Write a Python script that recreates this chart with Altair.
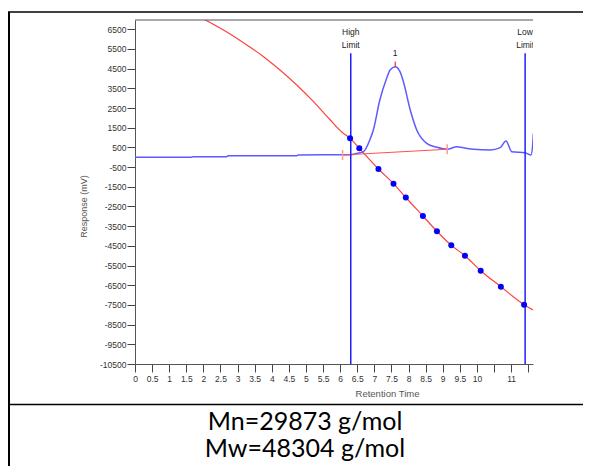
import altair as alt
import pandas as pd

# ---- data ----
# chromatogram (blue trace): retention time, response (mV)
blue_t = [0.0, 1.66, 1.70, 2.68, 2.72, 4.73, 4.77, 6.30, 6.50, 6.68, 6.87, 6.97, 7.16, 7.36,
          7.46, 7.61, 7.75, 7.85, 8.05, 8.24, 8.53, 8.83, 9.13, 9.41, 9.65, 9.90, 10.39,
          10.68, 10.85, 11.02, 11.41, 11.58, 11.63, 11.65]
blue_v = [0, 0, 30, 30, 80, 80, 116, 130, 200, 284, 890, 1386, 2909, 4011,
          4433, 4601, 4347, 3839, 2401, 1386, 710, 507, 406, 540, 470, 406, 370,
          490, 830, 284, 233, 117, 620, 1210]

# calibration curve (red)
red_t = [2.00, 2.78, 3.27, 3.76, 4.24, 4.73, 5.22, 5.71, 6.09, 6.29, 6.56, 7.12, 7.56, 7.92,
         8.42, 8.83, 9.25, 9.65, 10.11, 10.70, 11.38, 11.64]
red_v = [7030, 6261, 5703, 5109, 4433, 3671, 2823, 1894, 1218, 964, 456, -595, -1342, -2043,
         -2982, -3759, -4470, -4998, -5760, -6573, -7487, -7756]

# calibration standards (blue dots)
cal_t = [6.29, 6.56, 7.12, 7.56, 7.92, 8.42, 8.83, 9.25, 9.65, 10.11, 10.70, 11.38]
cal_v = [964, 456, -595, -1342, -2043, -2982, -3759, -4470, -4998, -5760, -6573, -7487]

# integration baseline (red) and its end markers
base_t = [6.07, 9.13]
base_v = [116, 406]
base_lo = [-140, 150]
base_hi = [370, 660]

# peak marker
peak_t = [7.61]
peak_lo = [4601]
peak_hi = [4860]
peak_lab_v = [5281]
peak_label = ["1"]

# limits
lim_t = [6.31, 11.41]
lim_top = [5281, 5281]
lim_bottom = [-10500, -10500]
lim_lab_t = [6.31, 6.31, 11.41, 11.41]
lim_lab_v = [6348, 5703, 6348, 5703]
lim_labels = ["High", "Limit", "Low", "Limit"]

# axes
y_ticks = [6500 - 1000 * i for i in range(18)]
x_ticks = [i * 0.5 for i in range(24)]
x_domain = [0, 11.64]
y_domain = [-10500, 6972]

result_lines = ["Mn=29873 g/mol", "Mw=48304 g/mol"]

W, H = 398, 344

xs = alt.Scale(domain=x_domain, nice=False, zero=False)
ys = alt.Scale(domain=y_domain, nice=False, zero=False)

xaxis = alt.Axis(
    values=x_ticks, grid=False, tickSize=8, labelPadding=2,
    labelExpr="(datum.value == 10.5 || datum.value == 11.5) ? '' : '' + datum.value",
    labelFont="Liberation Sans", labelFontSize=8.5, labelColor="#333",
    domainColor="#555", tickColor="#444", labelFlush=False, labelOverlap=False,
    titleFont="Liberation Sans", titleFontSize=9.5, titleFontWeight="normal", titleColor="#555",
    titleX=252, titleY=29, titleAlign="center", titleBaseline="middle",
)
yaxis = alt.Axis(
    values=y_ticks, grid=False, tickSize=8, labelPadding=1,
    labelExpr="'' + datum.value",
    labelFont="Liberation Sans", labelFontSize=8.5, labelColor="#333",
    domainColor="#555", tickColor="#444", labelFlush=False, labelOverlap=False,
    titleFont="Liberation Sans", titleFontSize=9, titleFontWeight="normal", titleColor="#555",
    titleX=-52, titleY=186, titleAlign="center", titleBaseline="middle", titleAngle=270,
)

X = alt.X("t:Q", scale=xs, axis=xaxis, title="Retention Time")
Y = alt.Y("v:Q", scale=ys, axis=yaxis, title="Response (mV)")

blue_df = pd.DataFrame({"t": blue_t, "v": blue_v})
red_df = pd.DataFrame({"t": red_t, "v": red_v})
cal_df = pd.DataFrame({"t": cal_t, "v": cal_v})
base_df = pd.DataFrame({"t": base_t, "v": base_v})
base_tick_df = pd.DataFrame({"t": base_t, "v": base_lo, "v2": base_hi})
peak_df = pd.DataFrame({"t": peak_t, "v": peak_lo, "v2": peak_hi})
peak_lab_df = pd.DataFrame({"t": peak_t, "v": peak_lab_v, "lab": peak_label})
lim_df = pd.DataFrame({"t": lim_t, "v": lim_top, "v2": lim_bottom})
lim_lab_df = pd.DataFrame({"t": lim_lab_t, "v": lim_lab_v, "lab": lim_labels})
one = pd.DataFrame({"a": [0]})

red_line = alt.Chart(red_df).mark_line(color="#ff4040", strokeWidth=1.2, clip=True,
                                       interpolate="monotone").encode(x=X, y=Y)
blue_line = alt.Chart(blue_df).mark_line(color="#5c5cff", strokeWidth=1.5, clip=True,
                                         interpolate="monotone").encode(x=X, y=Y)
base_line = alt.Chart(base_df).mark_line(color="#ff5050", strokeWidth=1).encode(x=X, y=Y)
base_ticks = alt.Chart(base_tick_df).mark_rule(color="#ff9a9a", strokeWidth=1.5).encode(
    x=X, y=Y, y2="v2:Q")
peak_tick = alt.Chart(peak_df).mark_rule(color="#ff0000", strokeWidth=1).encode(
    x=X, y=Y, y2="v2:Q")
peak_lab = alt.Chart(peak_lab_df).mark_text(font="Liberation Sans", fontSize=8.5, color="#222",
                                            baseline="middle").encode(x=X, y=Y, text="lab:N")
limits = alt.Chart(lim_df).mark_rule(color="#1f1fff", strokeWidth=1.5).encode(
    x=X, y=Y, y2="v2:Q")
lim_labels_layer = alt.Chart(lim_lab_df).mark_text(
    font="Liberation Sans", fontSize=8.5, color="#222", baseline="middle", clip=True
).encode(x=X, y=Y, text="lab:N")
dots = alt.Chart(cal_df).mark_circle(color="#0000ff", size=36, opacity=1).encode(x=X, y=Y)

top_frame = alt.Chart(one).mark_rule(color="#555", strokeWidth=1).encode(
    x=alt.value(0), x2=alt.value(W), y=alt.value(0))

# table borders
tb_top = alt.Chart(one).mark_rule(color="#000", strokeWidth=1.5).encode(
    x=alt.value(-127), x2=alt.value(456), y=alt.value(-8))
tb_left = alt.Chart(one).mark_rule(color="#000", strokeWidth=2).encode(
    x=alt.value(-126), y=alt.value(-8), y2=alt.value(460))
tb_sep = alt.Chart(one).mark_rule(color="#000", strokeWidth=1.5).encode(
    x=alt.value(-127), x2=alt.value(456), y=alt.value(384.5))

txt1 = alt.Chart(pd.DataFrame({"s": [result_lines[0]]})).mark_text(
    font="Lato", fontSize=25, color="#000", align="center", baseline="alphabetic"
).encode(x=alt.value(170), y=alt.value(410), text="s:N")
txt2 = alt.Chart(pd.DataFrame({"s": [result_lines[1]]})).mark_text(
    font="Lato", fontSize=25, color="#000", align="center", baseline="alphabetic"
).encode(x=alt.value(170), y=alt.value(437), text="s:N")

chart = alt.layer(
    red_line, blue_line, base_line, base_ticks, peak_tick, peak_lab, limits,
    lim_labels_layer, dots, top_frame, tb_top, tb_left, tb_sep, txt1, txt2
).properties(
    width=W, height=H,
    autosize=alt.AutoSizeParams(type="none"),
    padding={"left": 127, "top": 12, "right": 50, "bottom": 102},
    background="white",
).configure_view(stroke=None)

chart.save("out.html", embed_options={"renderer": "svg", "actions": False})
